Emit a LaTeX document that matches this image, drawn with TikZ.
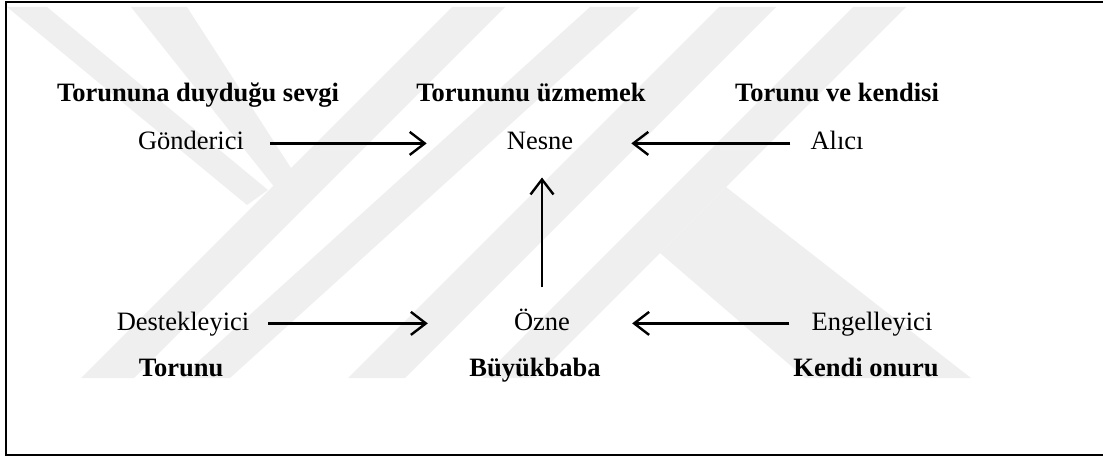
\documentclass[tikz,border=0pt]{standalone}
\usepackage{fontspec}
\setmainfont{Liberation Serif}
\usetikzlibrary{arrows.meta}
\definecolor{cMark}{HTML}{EFEFEF}

\begin{document}
\begin{tikzpicture}[x=1pt,y=-1pt,
    lbl/.style={inner sep=0pt,anchor=base,text height=18.5pt,text depth=5.3pt,
                font=\fontsize{26.5}{30}\selectfont},
    role/.style={lbl,font=\fontsize{26.5}{30}\selectfont\bfseries},
    arr/.style={-{Straight Barb[length=15pt,width=23pt]},line width=2.4pt},
    wmark/.style={fill=cMark,draw=none}]
  \useasboundingbox (0,0) rectangle (1103,457);
  % watermark
  \fill[wmark] (7,7) -- (47,7) -- (268,190) -- (247,205) -- cycle;
  \fill[wmark] (131,7) -- (187,7) -- (291,168) -- (295,213) -- cycle;
  \fill[wmark] (452,7) -- (505,7) -- (134,378) -- (81,378) -- cycle;
  \fill[wmark] (590,7) -- (640,7) -- (230,378) -- (180,378) -- cycle;
  \fill[wmark] (719,7) -- (776,7) -- (405,378) -- (348,378) -- cycle;
  \fill[wmark] (853,7) -- (906,7) -- (535,378) -- (482,378) -- cycle;
  \fill[wmark] (726,187) -- (971,378) -- (805,378) -- (660,253) -- cycle;
  % frame
  \draw[line width=2.4pt] (1110,2) -- (6,2) -- (6,455) -- (1110,455);
  % actants
  \node[role] (sevgi) at (198,102) {Torununa duyduğu sevgi};
  \node[lbl] (gonderen) at (191,150) {Gönderici};
  \node[role] (uzmemek) at (531,102) {Torununu üzmemek};
  \node[lbl] (nesne) at (540,150) {Nesne};
  \node[role] (kendisi) at (837,102) {Torunu ve kendisi};
  \node[lbl] (alici) at (837,150) {Alıcı};
  \node[lbl] (destek) at (183,330) {Destekleyici};
  \node[role] (torunu) at (181,376) {Torunu};
  \node[lbl] (ozne) at (542,330) {Özne};
  \node[role] (buyukbaba) at (535,376) {Büyükbaba};
  \node[lbl] (engel) at (872,330) {Engelleyici};
  \node[role] (onur) at (866,376) {Kendi onuru};
  % arrows
  \draw[arr,shorten <=26pt,shorten >=80pt] (gonderen.east) -- (gonderen.east -| nesne.west);
  \draw[arr,shorten <=20pt,shorten >=58pt] (alici.west) -- (alici.west -| nesne.east);
  \draw[arr,shorten <=19pt,shorten >=86pt] (destek.east) -- (destek.east -| ozne.west);
  \draw[arr,shorten <=22pt,shorten >=62pt] (engel.west) -- (engel.west -| ozne.east);
  \draw[arr,shorten <=24pt,shorten >=22pt] (ozne.north) -- (ozne.north |- nesne.south);
\end{tikzpicture}
\end{document}
